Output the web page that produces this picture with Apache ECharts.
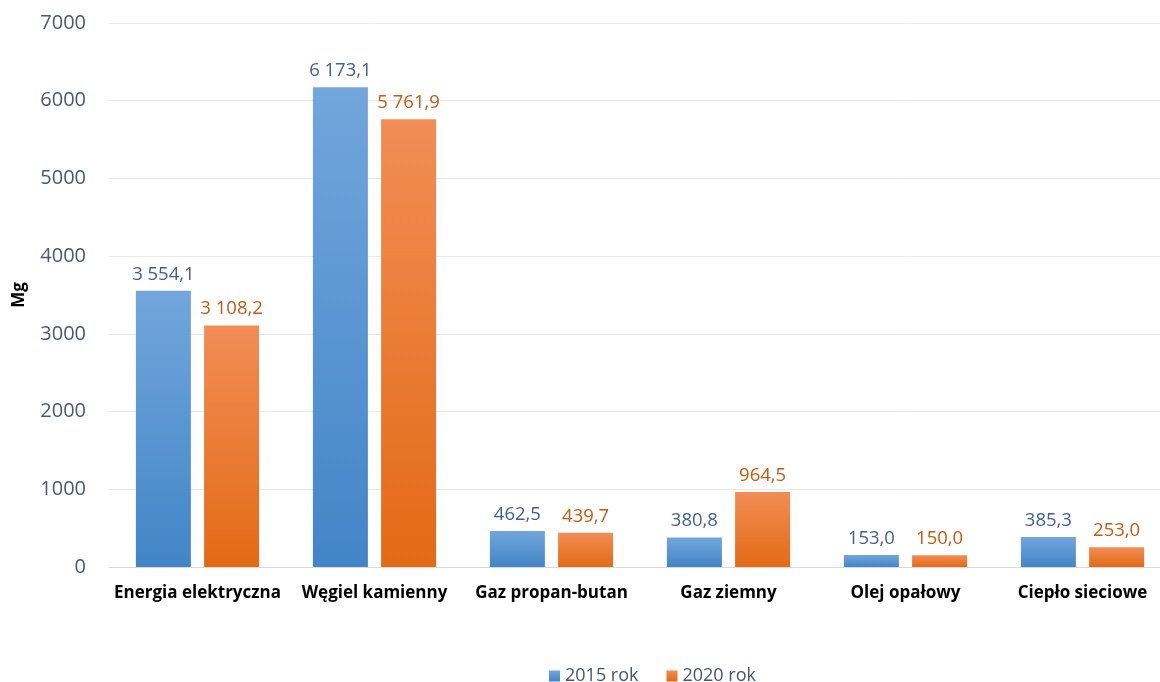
<!DOCTYPE html>
<html><head><meta charset="utf-8">
<script src="https://cdn.jsdelivr.net/npm/echarts@6/dist/echarts.min.js"></script>
<style>html,body{margin:0;padding:0;background:#fff;overflow:hidden;width:1160px;height:682px}#c{width:1171px;height:682px}</style>
</head><body><div id="c"></div>
<script>
const categories = ["Energia elektryczna","Węgiel kamienny","Gaz propan-butan","Gaz ziemny","Olej opałowy","Ciepło sieciowe"];
const series2015 = [3554.1, 6173.1, 462.5, 380.8, 153.0, 385.3];
const series2020 = [3108.2, 5761.9, 439.7, 964.5, 150.0, 253.0];
const yTicks = [0,1000,2000,3000,4000,5000,6000,7000];
const seriesNames = ["2015 rok","2020 rok"];

function fmt(v){
  const s = v.toFixed(1).split('.');
  const int = s[0].replace(/\B(?=(\d{3})+(?!\d))/g,' ');
  return int + ',' + s[1];
}
const font = "'Open Sans', 'Noto Sans', sans-serif";
const chart = echarts.init(document.getElementById('c'));
chart.setOption({
  animation:false,
  textStyle:{fontFamily:font},
  grid:{left:109,right:0,top:23,height:544},
  legend:{left:544,top:662,itemWidth:11,itemHeight:11,itemGap:28,icon:'rect',
    textStyle:{fontFamily:font,fontSize:18,color:'#4a5568'},data:seriesNames},
  xAxis:{type:'category',data:categories,
    axisLine:{lineStyle:{color:'#d9d9d9'}},axisTick:{show:false},
    axisLabel:{interval:0,fontFamily:font,fontSize:17,fontWeight:'bold',color:'#000',margin:18}},
  yAxis:{type:'value',min:yTicks[0],max:yTicks[yTicks.length-1],interval:1000,
    name:'Mg',nameLocation:'middle',nameGap:81,nameRotate:90,
    nameTextStyle:{fontFamily:font,fontSize:17,fontWeight:'bold',color:'#000'},
    axisLine:{show:false},axisTick:{show:false},
    splitLine:{lineStyle:{color:'#e6e9ef'}},
    axisLabel:{fontFamily:font,fontSize:20,color:'#4a5a70',margin:23,formatter:v=>String(v)}},
  series:[
    {name:seriesNames[0],type:'bar',data:series2015,barWidth:55,barGap:'24%',
      itemStyle:{color:new echarts.graphic.LinearGradient(0,0,0,1,[{offset:0,color:'#72a6dc'},{offset:1,color:'#4285c7'}])},
      label:{show:true,position:'top',distance:7,formatter:p=>fmt(p.value),fontFamily:font,fontSize:18.5,color:'#3e5f9e'}},
    {name:seriesNames[1],type:'bar',data:series2020,barWidth:55,
      itemStyle:{color:new echarts.graphic.LinearGradient(0,0,0,1,[{offset:0,color:'#f28d55'},{offset:1,color:'#e36a15'}])},
      label:{show:true,position:'top',distance:7,formatter:p=>fmt(p.value),fontFamily:font,fontSize:18.5,color:'#c55a11'}}
  ]
});
</script></body></html>
